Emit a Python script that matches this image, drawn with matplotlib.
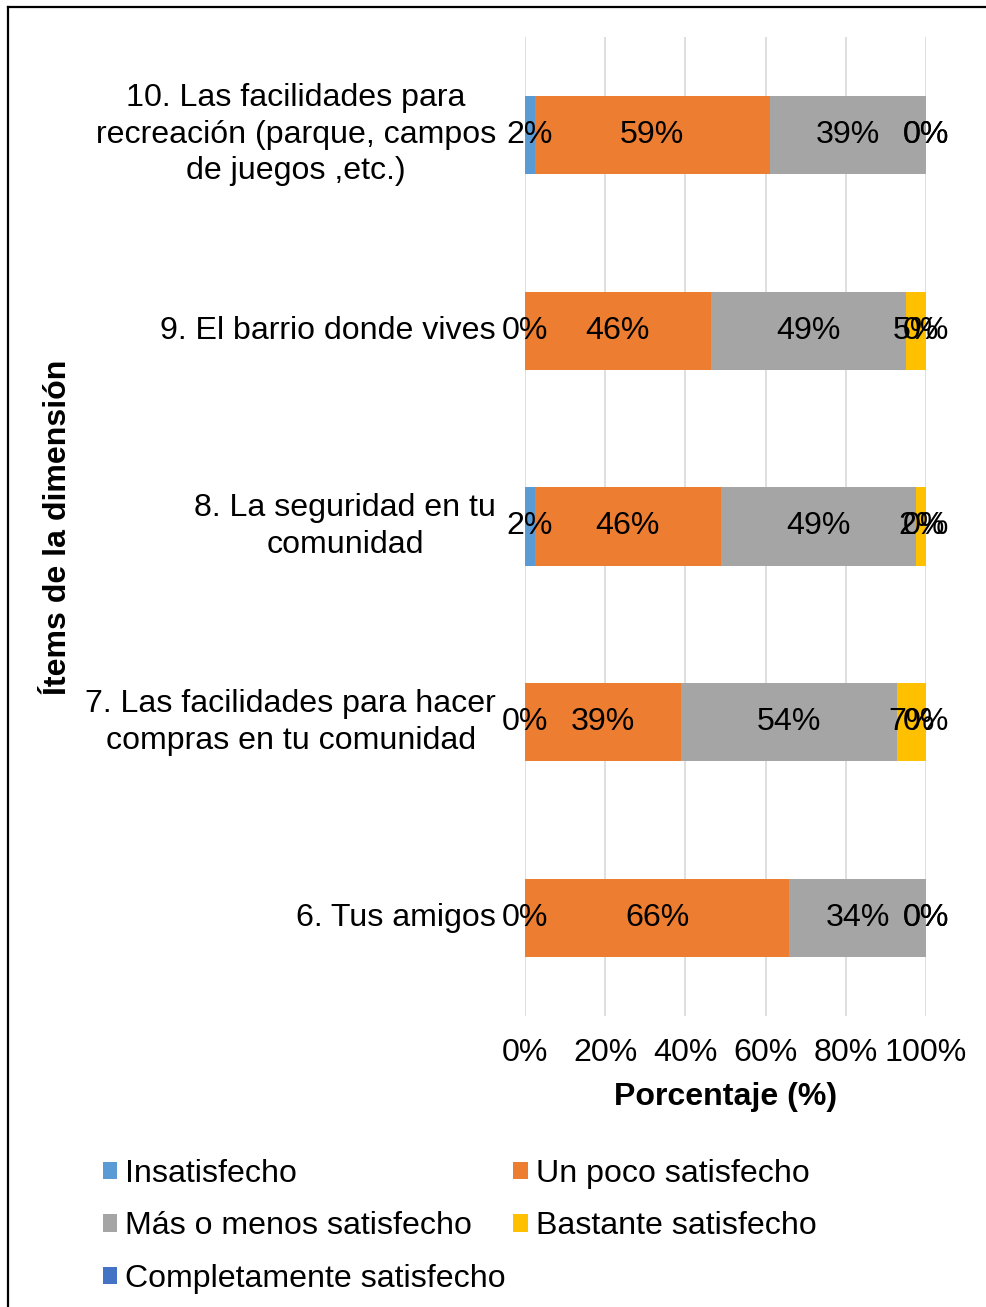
import matplotlib
matplotlib.use('Agg')
import matplotlib.pyplot as plt
from matplotlib.patches import Patch
from matplotlib.lines import Line2D
from matplotlib.transforms import ScaledTranslation

plt.rcParams['font.family'] = ['Liberation Sans', 'DejaVu Sans']

categories = [
    "6. Tus amigos",
    "7. Las facilidades para hacer\ncompras en tu comunidad",
    "8. La seguridad en tu\ncomunidad",
    "9. El barrio donde vives",
    "10. Las facilidades para\nrecreación (parque, campos\nde juegos ,etc.)",
]
series_names = ["Insatisfecho", "Un poco satisfecho", "Más o menos satisfecho",
                "Bastante satisfecho", "Completamente satisfecho"]
insatisfecho = [0.0, 0.0, 2.44, 0.0, 2.44]
un_poco = [65.85, 39.02, 46.34, 46.34, 58.54]
mas_o_menos = [34.15, 53.66, 48.78, 48.78, 39.02]
bastante = [0.0, 7.32, 2.44, 4.88, 0.0]
completamente = [0.0, 0.0, 0.0, 0.0, 0.0]
series_values = [insatisfecho, un_poco, mas_o_menos, bastante, completamente]
colors = ["#5B9BD5", "#ED7D31", "#A5A5A5", "#FFC000", "#4472C4"]
xticks = [0, 20, 40, 60, 80, 100]
xtick_labels = ["0%", "20%", "40%", "60%", "80%", "100%"]

FS = 23.1
W, H = 987, 1307
fig = plt.figure(figsize=(W / 100, H / 100), dpi=100)
ax = fig.add_axes([525 / W, 1 - 1016 / H, 401 / W, (1016 - 37) / H])

ypos = list(range(len(categories)))
left = [0.0] * len(categories)
handles = []
for name, vals, col in zip(series_names, series_values, colors):
    ax.barh(ypos, vals, left=left, height=0.4, color=col, label=name, zorder=3)
    for y, v, l in zip(ypos, vals, left):
        ax.text(l + v / 2, y, f"{round(v)}%", ha='center', va='center',
                fontsize=FS, color='black', zorder=5)
    left = [a + b for a, b in zip(left, vals)]
    handles.append(Patch(facecolor=col, edgecolor='none', label=name))

ax.set_xlim(0, 100)
ax.set_ylim(-0.5, len(categories) - 0.5)
ax.set_xticks(xticks)
ax.set_xticklabels(xtick_labels, fontsize=FS)
ax.set_yticks(ypos)
ax.set_yticklabels([""] * len(categories))
label_tr = ax.get_yaxis_transform() + ScaledTranslation(-0.29, 0.0, fig.dpi_scale_trans)
for y, cat in zip(ypos, categories):
    ax.text(0, y, cat, transform=label_tr, ha='right', va='center',
            multialignment='center', linespacing=1.28, fontsize=FS, clip_on=False)
ax.tick_params(axis='both', length=0)
ax.tick_params(axis='x', pad=16)
ax.grid(axis='x', color='#D9D9D9', linewidth=1.2, zorder=0)
for s in ax.spines.values():
    s.set_visible(False)

ax.set_xlabel("Porcentaje (%)", fontsize=FS, fontweight='bold', labelpad=10)
fig.text(58 / W, 1 - 527 / H, "Ítems de la dimensión", rotation=90, fontsize=FS,
         fontweight='bold', ha='center', va='center')

order = [0, 2, 4, 1, 3]
fig.legend([handles[i] for i in order], [series_names[i] for i in order],
           ncol=2, loc='upper left', bbox_to_anchor=(103 / W, 1 - 1159 / H),
           frameon=False, fontsize=FS, handlelength=0.45, handleheight=0.45,
           handletextpad=0.25, columnspacing=0.22, labelspacing=0.7,
           borderpad=0, borderaxespad=0)

fig.add_artist(Line2D([8 / W, 8 / W], [0, 1 - 7 / H], color='black', linewidth=1.6,
                      transform=fig.transFigure))
fig.add_artist(Line2D([8 / W, 1], [1 - 7 / H, 1 - 7 / H], color='black', linewidth=1.6,
                      transform=fig.transFigure))

fig.savefig("out.png", dpi=100, facecolor='white')
